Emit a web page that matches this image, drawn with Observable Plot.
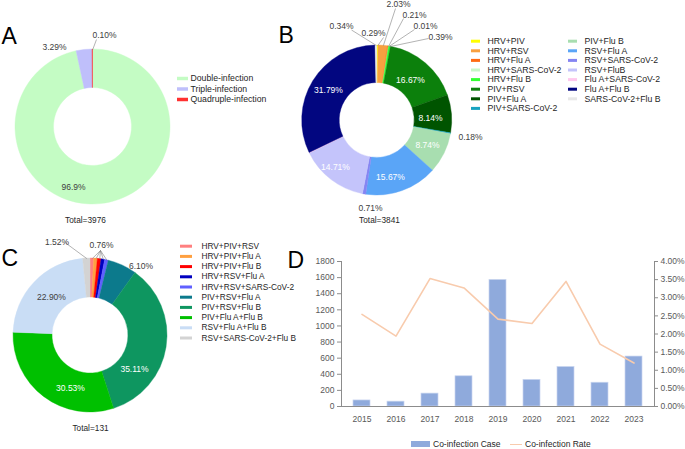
<!DOCTYPE html>
<html><head><meta charset="utf-8">
<script src="https://cdn.jsdelivr.net/npm/d3@7"></script>
<script src="https://cdn.jsdelivr.net/npm/@observablehq/plot@0.6"></script>
<style>
body{margin:0;background:#fff;}
#root{position:relative;width:685px;height:449px;font-family:"Liberation Sans",Arial,sans-serif;overflow:hidden;background:#fff;}
.panel{position:absolute;}
.panel svg{overflow:visible;background:transparent;}
.lg{position:absolute;font-size:8.5px;color:#262626;line-height:10px;white-space:nowrap;}
</style></head><body><div id="root"></div>
<script>
// ---------------- Data ----------------
const aCategories = ["Double-infection", "Triple-infection", "Quadruple-infection"];
const aCounts = [3841, 131, 4];
const aLabels = ["96.9%", "3.29%", "0.10%"];
const aColors = ["#c4fcc4", "#bfbffb", "#ff3030"];
const aTotal = 3976;

const bCategories = ["HRV+PIV", "HRV+RSV", "HRV+Flu A", "HRV+SARS-CoV-2", "HRV+Flu B", "PIV+RSV", "PIV+Flu A", "PIV+SARS-CoV-2",
  "PIV+Flu B", "RSV+Flu A", "RSV+SARS-CoV-2", "RSV+FluB", "Flu A+SARS-CoV-2", "Flu A+Flu B", "SARS-CoV-2+Flu B"];
const bPercents = [0.29, 2.03, 0.21, 0.01, 0.39, 16.67, 8.14, 0.18, 8.74, 15.67, 0.71, 14.71, 0.12, 31.79, 0.34];
const bColors = ["#ffff00", "#f8a040", "#ff6a13", "#c8f7c8", "#33ff33", "#0c800c", "#005400", "#17a3c0",
  "#a8deb0", "#5aa5f7", "#8585f2", "#c4c4fb", "#ffc8ee", "#020680", "#e8e8e8"];
const bTotal = 3841;

const cCategories = ["HRV+PIV+RSV", "HRV+PIV+Flu A", "HRV+PIV+Flu B", "HRV+RSV+Flu A", "HRV+RSV+SARS-CoV-2",
  "PIV+RSV+Flu A", "PIV+RSV+Flu B", "PIV+Flu A+Flu B", "RSV+Flu A+Flu B", "RSV+SARS-CoV-2+Flu B"];
const cCounts = [1, 1, 1, 1, 1, 8, 46, 40, 30, 2];
const cPercents = [0.76, 0.76, 0.76, 0.76, 0.76, 6.10, 35.11, 30.53, 22.90, 1.52];
const cColors = ["#ff8080", "#ffa040", "#ff0000", "#0000c0", "#6060ff", "#0c7a8c", "#0e9660", "#00c000", "#c9ddf5", "#d3d3d3"];
const cTotal = 131;

const years = ["2015", "2016", "2017", "2018", "2019", "2020", "2021", "2022", "2023"];
const cases = [75, 60, 160, 375, 1571, 330, 490, 295, 620];
const ratesPct = [2.54, 1.94, 3.53, 3.27, 2.41, 2.29, 3.45, 1.72, 1.20];
const leftTicks = [0, 200, 400, 600, 800, 1000, 1200, 1400, 1600, 1800];
const rightTicks = [0, 0.5, 1, 1.5, 2, 2.5, 3, 3.5, 4];

// ---------------- Layout ----------------
const FONT = '"Liberation Sans", Arial, sans-serif';
const pct = v => v.toFixed(2) + "%";

const layoutA = {
  left: 0, top: 0, width: 270, height: 230, cx: 92.5, cy: 126.5, ro: 77.5, ri: 39,
  labels: [
    {i: 0, dx: -19.5, dy: 60.5},
    {i: 1, dx: -38.5, dy: -79.5},
    {i: 2, dx: 11.5, dy: -91.5, lead: [-8, 4]}
  ],
  legend: {x: 177, y: 78, dy: 10.5, perCol: 3, colDx: 0, sw: 11, sh: 3.5, tx: 13, fs: 8.7},
  letter: {x: 1, y: 36.5, text: "A"},
  total: {x: 85, y: 220, text: "Total=" + aTotal}
};
const layoutB = {
  left: 270, top: 0, width: 415, height: 230, cx: 106.7, cy: 120, ro: 75, ri: 37.5,
  labels: [
    {i: 14, dx: -35.7, dy: -94.5, lead: [10, 4]},
    {i: 0, dx: -3.7, dy: -87, lead: [10, 4]},
    {i: 1, dx: 21.3, dy: -116, lead: [-3, 4]},
    {i: 2, dx: 37.3, dy: -105, lead: [-11, 3]},
    {i: 3, dx: 48.3, dy: -94, lead: [-11, 3]},
    {i: 4, dx: 63.3, dy: -83, lead: [-12, 1]},
    {i: 5, dx: 33.3, dy: -40, fill: "#fff"},
    {i: 6, dx: 53.3, dy: -2, fill: "#fff"},
    {i: 7, dx: 93.3, dy: 17},
    {i: 8, dx: 50.3, dy: 25, fill: "#fff"},
    {i: 9, dx: 13.3, dy: 57, fill: "#fff"},
    {i: 10, dx: -6.7, dy: 88},
    {i: 11, dx: -41.7, dy: 47, fill: "#fff"},
    {i: 13, dx: -48.7, dy: -30, fill: "#fff"}
  ],
  legend: {x: 201, y: 40.7, dy: 9.6, perCol: 8, colDx: 97, sw: 9, sh: 3, tx: 16, fs: 8.7},
  letter: {x: 8, y: 35, text: "B"},
  total: {x: 109, y: 220, text: "Total=" + bTotal}
};
const layoutC = {
  left: 0, top: 225, width: 305, height: 224, cx: 90, cy: 110, ro: 77, ri: 38,
  labels: [
    {i: 0, dx: 11, dy: -90, lead: [-1, 5], slices: [0, 1, 2, 3, 4]},
    {i: 9, dx: -33.5, dy: -93, lead: [8, 0]},
    {i: 5, dx: 50.5, dy: -69},
    {i: 6, dx: 44, dy: 34, fill: "#fff"},
    {i: 7, dx: -20, dy: 53, fill: "#fff"},
    {i: 8, dx: -39, dy: -38}
  ],
  legend: {x: 180, y: 20.7, dy: 10.2, perCol: 10, colDx: 0, sw: 12, sh: 3, tx: 21, fs: 8.3},
  letter: {x: 1, y: 33.5, text: "C"},
  total: {x: 90, y: 203, text: "Total=" + cTotal}
};

function donutPlot(cfg, values, colors, names, labelTexts) {
  const {width, height, cx, cy, ro, ri} = cfg;
  const slices = d3.pie().sort(null).value(d => d)(values);
  const mid = j => (slices[j].startAngle + slices[j].endAngle) / 2;
  const labels = cfg.labels.map(s => ({x: cx + s.dx, y: cy + s.dy, text: labelTexts[s.i], fill: s.fill || "#404040"}));
  const leaders = cfg.labels.filter(s => s.lead).flatMap(s => (s.slices || [s.i]).map(j => ({
    x1: cx + s.dx + s.lead[0], y1: cy + s.dy + s.lead[1],
    x2: cx + ro * Math.sin(mid(j)), y2: cy - ro * Math.cos(mid(j))
  })));
  const lg = cfg.legend;
  const items = names.map((name, i) => ({
    name, color: colors[i],
    x: lg.x + Math.floor(i / lg.perCol) * lg.colDx,
    y: lg.y + (i % lg.perCol) * lg.dy
  }));
  const ring = (index, scales) => {
    const g = d3.create("svg:g").attr("transform", `translate(${scales.x(cx)},${scales.y(cy)})`);
    const arc = d3.arc().innerRadius(ri).outerRadius(ro);
    g.selectAll("path").data(slices).join("path")
      .attr("d", arc)
      .attr("fill", d => colors[d.index])
      .attr("stroke", d => colors[d.index])
      .attr("stroke-width", 0.4);
    return g.node();
  };
  return Plot.plot({
    width, height, margin: 0,
    x: {domain: [0, width], range: [0, width], axis: null},
    y: {domain: [0, height], range: [0, height], axis: null},
    color: {type: "identity"},
    style: {background: "transparent", fontFamily: FONT, overflow: "visible"},
    marks: [
      ring,
      Plot.link(leaders, {x1: "x1", y1: "y1", x2: "x2", y2: "y2", stroke: "#7f7f7f", strokeWidth: 0.6}),
      Plot.text(labels, {x: "x", y: "y", text: "text", fill: d => d.fill, fontSize: 8.5}),
      Plot.ruleY(items, {y: "y", x1: "x", x2: d => d.x + lg.sw, stroke: d => d.color, strokeWidth: lg.sh}),
      Plot.text(items, {x: d => d.x + lg.tx, y: "y", text: "name", textAnchor: "start", fontSize: lg.fs, fill: "#262626"}),
      Plot.text([cfg.letter], {x: "x", y: "y", text: "text", textAnchor: "start", fontSize: 23, fill: "#000"}),
      Plot.text([cfg.total], {x: "x", y: "y", text: "text", fontSize: 8.3, fill: "#262626"})
    ]
  });
}

const root = document.getElementById("root");
function place(node, left, top) {
  const div = document.createElement("div");
  div.className = "panel";
  div.style.left = left + "px";
  div.style.top = top + "px";
  div.appendChild(node);
  root.appendChild(div);
}

place(donutPlot(layoutA, aCounts, aColors, aCategories, aLabels), layoutA.left, layoutA.top);
place(donutPlot(layoutB, bPercents, bColors, bCategories, bPercents.map(pct)), layoutB.left, layoutB.top);
place(donutPlot(layoutC, cCounts, cColors, cCategories, cPercents.map(pct)), layoutC.left, layoutC.top);

// ---------------- Panel D ----------------
const dData = years.map((year, i) => ({year, cases: cases[i], rate: ratesPct[i]}));
const RATE_K = 1800 / 4; // 4.00% on the right axis equals 1800 on the left
const axisGray = "#8c8c8c";
const dPlot = Plot.plot({
  width: 405, height: 205,
  marginLeft: 61, marginRight: 31, marginTop: 36, marginBottom: 24,
  style: {background: "transparent", fontFamily: FONT, fontSize: "8.5px", overflow: "visible"},
  x: {domain: years, paddingInner: 0.49, paddingOuter: 0.245, label: null},
  y: {domain: [0, 1800], label: null},
  marks: [
    Plot.barY(dData, {x: "year", y: "cases", fill: "#8faadc", stroke: "#c8d5ef", strokeWidth: 0.7}),
    Plot.line(dData, {x: "year", y: d => d.rate * RATE_K, stroke: "#f8cbad", strokeWidth: 1.6}),
    Plot.ruleY([0], {stroke: axisGray}),
    Plot.frame({anchor: "left", stroke: axisGray}),
    Plot.frame({anchor: "right", stroke: axisGray}),
    Plot.axisY({anchor: "left", ticks: leftTicks, tickFormat: d => String(d), tickSize: 4, tickPadding: 3, label: null, stroke: axisGray, fill: "#595959"}),
    Plot.axisY({anchor: "right", ticks: rightTicks.map(t => t * RATE_K), tickFormat: d => (d / RATE_K).toFixed(2) + "%",
      tickSize: 3, tickPadding: 3, label: null, stroke: axisGray, fill: "#595959"}),
    Plot.axisX({tickSize: 0, tickPadding: 9, label: null, fill: "#595959"}),
    Plot.text(["D"], {frameAnchor: "top-left", dx: -54, dy: -10, textAnchor: "start", fontSize: 23, fill: "#000"})
  ]
});
place(dPlot, 280, 225);

// legend for D (below the SVG)
function addEl(html, style) {
  const el = document.createElement("div");
  el.className = "lg";
  Object.assign(el.style, style);
  el.innerHTML = html;
  root.appendChild(el);
}
addEl("", {left: "411px", top: "441px", width: "19px", height: "6px", background: "#8faadc"});
addEl("Co-infection Case", {left: "433px", top: "439px"});
addEl("", {left: "510px", top: "443.5px", width: "12px", height: "1.6px", background: "#f8cbad"});
addEl("Co-infection Rate", {left: "525px", top: "439px"});
</script></body></html>
